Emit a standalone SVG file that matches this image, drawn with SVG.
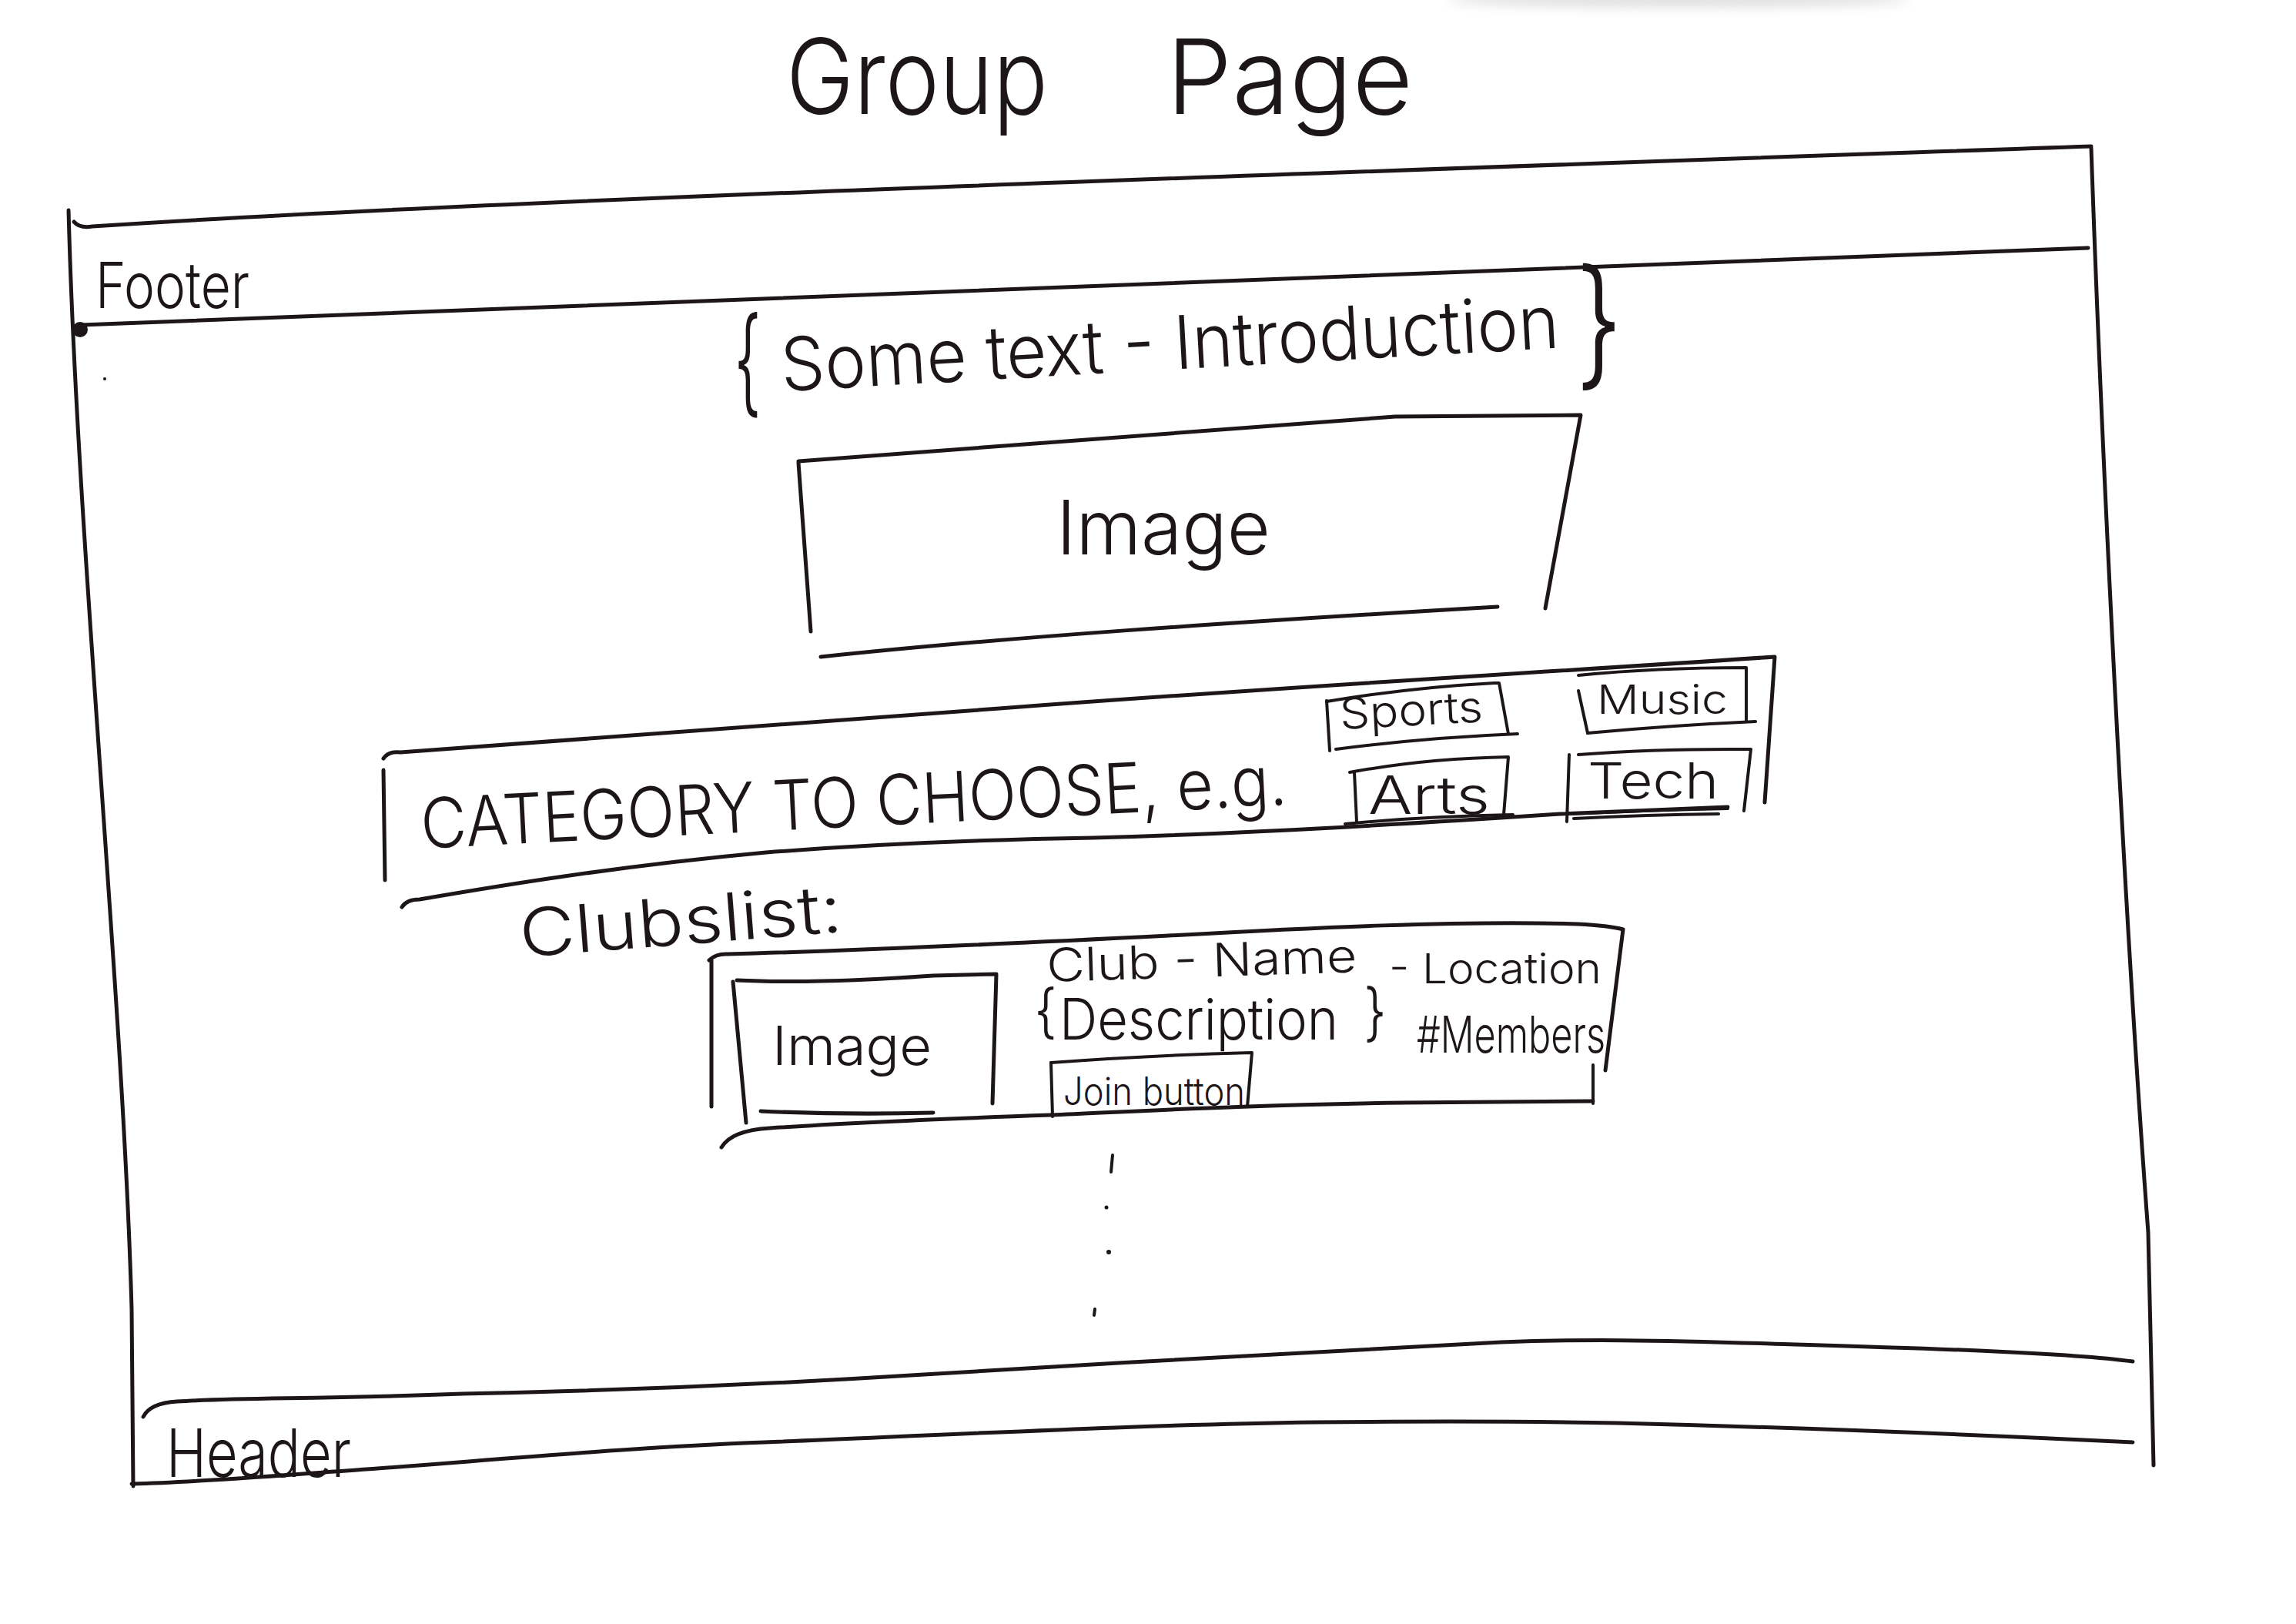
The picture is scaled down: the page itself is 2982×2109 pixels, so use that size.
<svg xmlns="http://www.w3.org/2000/svg" width="2982" height="2109" viewBox="0 0 2982 2109">
<style>
.ln{fill:none;stroke:#1c1618;stroke-width:5;stroke-linecap:round;stroke-linejoin:round}
.th{stroke-width:4}
.hw{font-family:"Inter","Lato","Liberation Sans",sans-serif;font-weight:300;fill:#1c1618}
</style>
<defs>
<filter id="blur" x="-20%" y="-200%" width="140%" height="500%"><feGaussianBlur stdDeviation="7"/></filter>
</defs>
<rect width="2982" height="2109" fill="#ffffff"/>
<ellipse cx="2180" cy="0" rx="300" ry="10" fill="#9a9a9a" opacity="0.3" filter="url(#blur)"/>

<g id="title">
<text class="hw" font-size="135" y="148"><tspan x="1021" textLength="340" lengthAdjust="spacingAndGlyphs">Group</tspan><tspan x="1515" textLength="320" lengthAdjust="spacingAndGlyphs">Page</tspan></text>
</g>

<g id="page-frame">
<path class="ln" d="M89 273 C100 700 160 1300 171 1700 L173 1930"/>
<path class="ln" d="M2716 192 C2730 600 2760 1200 2790 1600 L2797 1903"/>
<path class="ln" d="M96 288 Q104 297 120 294 C600 262 1500 232 2716 190"/>
</g>

<g id="footer">
<path class="ln" d="M106 422 C700 400 1600 362 2712 322"/>
<circle cx="104" cy="428" r="10" fill="#1c1618"/>
<circle cx="136" cy="492" r="2" fill="#1c1618"/>
<text class="hw" font-size="82" x="124" y="400" textLength="200" lengthAdjust="spacingAndGlyphs">Footer</text>
</g>

<g id="intro-text">
<text class="hw" font-size="152" x="953" y="522" textLength="36" lengthAdjust="spacingAndGlyphs">{</text>
<text class="hw" font-size="96" x="1016" y="508" textLength="1012" lengthAdjust="spacingAndGlyphs" transform="rotate(-3.2 1016 508)">Some text - Introduction</text>
<text class="hw" font-size="182" x="2046" y="482" textLength="62" lengthAdjust="spacingAndGlyphs">}</text>
</g>

<g id="hero-image">
<path class="ln" d="M1037 599 C1200 585 1500 562 1812 541 L2053 539 L2007 790"/>
<path class="ln" d="M1037 601 L1053 820"/>
<path class="ln" d="M1066 853 C1300 828 1600 808 1945 788"/>
<text class="hw" font-size="98" x="1372" y="720" textLength="278" lengthAdjust="spacingAndGlyphs">Image</text>
</g>

<g id="category-bar">
<path class="ln" d="M498 985 Q505 975 520 977 C700 965 900 950 1298 920 S1900 880 2305 853 L2292 1042"/>
<path class="ln" d="M498 1000 L500 1143"/>
<path class="ln" d="M522 1178 Q528 1168 545 1168 C650 1150 800 1125 995 1107 C1150 1095 1300 1090 1420 1088 C1600 1083 1800 1072 2026 1057 L2244 1048"/>
<text class="hw" font-size="90" x="548" y="1102" textLength="1126" lengthAdjust="spacingAndGlyphs" transform="rotate(-2.9 548 1102)">CATEGORY TO CHOOSE, e.g.</text>
</g>

<g id="pill-sports">
<path class="ln th" d="M1723 910 L1727 975"/>
<path class="ln th" d="M1723 911 Q1830 893 1941 887 L1947 887 L1959 953"/>
<path class="ln th" d="M1735 973 Q1850 958 1971 953"/>
<text class="hw" font-size="56" x="1741" y="947" textLength="186" lengthAdjust="spacingAndGlyphs" transform="rotate(-3 1741 947)">Sports</text>
</g>

<g id="pill-music">
<path class="ln th" d="M2050 897 L2062 952"/>
<path class="ln th" d="M2050 877 Q2150 867 2268 867 L2268 937"/>
<path class="ln th" d="M2062 952 Q2170 942 2280 937"/>
<text class="hw" font-size="52" x="2074" y="927" textLength="170" lengthAdjust="spacingAndGlyphs">Music</text>
</g>

<g id="pill-arts">
<path class="ln th" d="M1759 1003 L1762 1067"/>
<path class="ln th" d="M1753 1003 Q1850 985 1959 983 L1953 1058"/>
<path class="ln th" d="M1747 1070 Q1850 1060 1965 1058"/>
<text class="hw" font-size="68" x="1777" y="1057" textLength="158" lengthAdjust="spacingAndGlyphs">Arts</text>
</g>

<g id="pill-tech">
<path class="ln th" d="M2038 980 L2035 1067"/>
<path class="ln th" d="M2050 980 Q2150 972 2274 973 L2265 1053"/>
<path class="ln th" d="M2038 1057 Q2140 1052 2244 1050"/>
<path class="ln th" d="M2044 1063 Q2140 1058 2232 1057"/>
<text class="hw" font-size="65" x="2062" y="1037" textLength="170" lengthAdjust="spacingAndGlyphs">Tech</text>
</g>

<g id="clubs-label">
<text class="hw" font-size="86" x="677" y="1243" textLength="420" lengthAdjust="spacingAndGlyphs" transform="rotate(-4.5 677 1243)">Clubslist:</text>
</g>

<g id="club-card">
<path class="ln" d="M921 1247 Q930 1238 946 1239 C1100 1235 1300 1226 1518 1215 C1700 1205 1900 1195 2049 1200 Q2090 1202 2108 1207 L2085 1390"/>
<path class="ln" d="M924 1247 L924 1437"/>
<path class="ln" d="M937 1490 Q950 1468 1000 1465 C1100 1458 1250 1452 1365 1448 C1500 1442 1620 1435 1824 1432 L2069 1430"/>
<path class="ln th" d="M2069 1383 L2069 1433"/>
<path class="ln" d="M952 1275 L969 1458"/>
<path class="ln" d="M957 1273 Q1059 1278 1212 1267 L1294 1265 L1289 1433"/>
<path class="ln" d="M988 1443 Q1100 1448 1212 1445"/>
<text class="hw" font-size="70" x="1003" y="1383" textLength="207" lengthAdjust="spacingAndGlyphs">Image</text>
<text class="hw" font-size="60" x="1360" y="1275" textLength="403" lengthAdjust="spacingAndGlyphs" transform="rotate(-1.8 1360 1275)">Club - Name</text>
<text class="hw" font-size="54" x="1804" y="1277" textLength="276" lengthAdjust="spacingAndGlyphs">- Location</text>
<text class="hw" font-size="76" x="1343" y="1340" textLength="30" lengthAdjust="spacingAndGlyphs">{</text>
<text class="hw" font-size="74" x="1376" y="1350" textLength="362" lengthAdjust="spacingAndGlyphs">Description</text>
<text class="hw" font-size="82" x="1771" y="1343" textLength="30" lengthAdjust="spacingAndGlyphs">}</text>
<text class="hw" font-size="66" x="1840" y="1367" textLength="245" lengthAdjust="spacingAndGlyphs">#Members</text>
<path class="ln th" d="M1365 1380 Q1500 1370 1626 1367 L1620 1437"/>
<path class="ln th" d="M1365 1380 L1367 1450"/>
<text class="hw" font-size="50" x="1381" y="1435" textLength="236" lengthAdjust="spacingAndGlyphs">Join button</text>
</g>

<g id="more-dots">
<path class="ln th" d="M1445 1500 L1443 1522"/>
<circle cx="1437" cy="1568" r="2.5" fill="#1c1618"/>
<circle cx="1440" cy="1626" r="3" fill="#1c1618"/>
<path class="ln th" d="M1422 1700 L1421 1708"/>
</g>

<g id="header">
<path class="ln" d="M186 1840 Q195 1822 230 1820 C300 1815 421 1817 600 1810 C800 1806 993 1798 1200 1785 C1450 1770 1750 1752 1950 1743 C2050 1739 2150 1740 2300 1745 C2500 1751 2680 1756 2770 1768"/>
<path class="ln" d="M171 1927 Q250 1925 421 1912 C600 1900 800 1880 993 1873 C1300 1860 1500 1850 1707 1847 C1900 1845 2000 1846 2100 1848 C2300 1853 2500 1860 2770 1873"/>
<text class="hw" font-size="86" x="216" y="1918" textLength="240" lengthAdjust="spacingAndGlyphs">Header</text>
</g>

<g id="connectors"/>
</svg>
